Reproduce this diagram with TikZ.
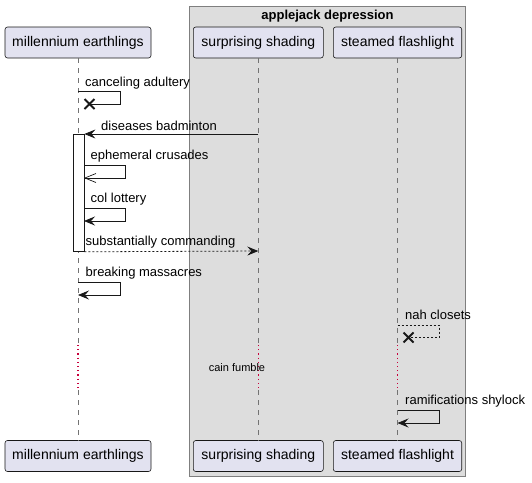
\documentclass[tikz,border=0pt]{standalone}
\usepackage{fontspec}
\setmainfont{Liberation Sans}
\usetikzlibrary{arrows.meta}
\definecolor{partfill}{HTML}{E2E2F0}
\definecolor{partline}{HTML}{181818}
\definecolor{boxfill}{HTML}{DDDDDD}
\definecolor{boxline}{HTML}{7F7F7F}
\definecolor{delayred}{HTML}{C8003C}
\tikzset{
  part/.style={draw=partline, fill=partfill, rounded corners=2.5pt, line width=0.6pt,
    minimum height=31pt, inner xsep=0pt, font=\fontsize{14}{16}\selectfont, text=black},
  life/.style={draw=black!55, dash pattern=on 5pt off 5pt, line width=0.7pt},
  delayline/.style={draw=delayred, dash pattern=on 1.2pt off 3pt, line width=1.1pt},
  msg/.style={draw=partline, line width=0.8pt},
  retmsg/.style={msg, dash pattern=on 2pt off 2pt},
  fullhead/.style={-{Stealth[length=11pt,width=9pt,inset=4pt]}},
  openhead/.style={-{Straight Barb[length=11pt,width=9pt,line width=0.7pt]}},
  lbl/.style={font=\fontsize{13}{15}\selectfont, anchor=base west, inner sep=0pt, text=black},
  xmark/.style={line width=2pt, draw=partline},
  acts/.style={draw=partline, fill=white, line width=0.8pt, minimum width=11pt, inner sep=0pt}
}
\begin{document}
\begin{tikzpicture}[x=1pt,y=-1pt]
\useasboundingbox (0,0) rectangle (532,482);
% group box
\draw[draw=boxline, fill=boxfill, line width=0.8pt] (189.5,6.5) rectangle (465.5,476.5);
\node[font=\bfseries\fontsize{13}{15}\selectfont, anchor=base, inner sep=0pt] (title) at (327.5,19) {applejack depression};
% participants
\node[part, minimum width=146pt] (pA) at (78,42.5) {millennium earthlings};
\node[part, minimum width=130pt] (pB) at (258.3,42.5) {surprising shading};
\node[part, minimum width=128.4pt] (pC) at (397.5,42.5) {steamed flashlight};
\node[part, minimum width=146pt] (pAb) at (78,456) {millennium earthlings};
\node[part, minimum width=130pt] (pBb) at (258.3,456) {surprising shading};
\node[part, minimum width=128.4pt] (pCb) at (397.5,456) {steamed flashlight};
% lifelines
\coordinate (a1) at (78,343); \coordinate (a2) at (78,345); \coordinate (a3) at (78,388); \coordinate (a4) at (78,390);
\coordinate (b1) at (258.3,343); \coordinate (b2) at (258.3,345); \coordinate (b3) at (258.3,388); \coordinate (b4) at (258.3,390);
\coordinate (c1) at (397.5,343); \coordinate (c2) at (397.5,345); \coordinate (c3) at (397.5,388); \coordinate (c4) at (397.5,390);
\draw[life] (pA.south) -- (a1); \draw[delayline] (a2) -- (a3); \draw[life] (a4) -- (pAb.north);
\draw[life] (pB.south) -- (b1); \draw[delayline] (b2) -- (b3); \draw[life] (b4) -- (pBb.north);
\draw[life] (pC.south) -- (c1); \draw[delayline] (c2) -- (c3); \draw[life] (c4) -- (pCb.north);
% activation
\node[acts, minimum height=117pt, anchor=north] (act) at (78.5,134) {};
% 1 canceling adultery
\coordinate (m1a) at (78,91.5); \coordinate (m1x) at (89.5,104);
\draw[msg] (m1a) -- (120,91.5) -- (120,104) -- (m1x);
\draw[xmark] ([shift={(-5,-5)}]m1x) -- ([shift={(5,5)}]m1x) ([shift={(-5,5)}]m1x) -- ([shift={(5,-5)}]m1x);
\node[lbl] (l1) at (85,86) {canceling adultery};
% 2 diseases badminton
\coordinate (m2a) at (258.3,134);
\draw[msg, fullhead] (m2a) -- (act.north east);
\node[lbl] (l2) at (101,130) {diseases badminton};
% 3 ephemeral crusades
\coordinate (m3a) at (84,165.5); \coordinate (m3b) at (84,178);
\draw[msg, openhead] (m3a) -- (125,165.5) -- (125,178) -- (m3b);
\node[lbl] (l3) at (90.5,159.5) {ephemeral crusades};
% 4 col lottery
\coordinate (m4a) at (84,208.5); \coordinate (m4b) at (84,221);
\draw[msg, fullhead] (m4a) -- (125,208.5) -- (125,221) -- (m4b);
\node[lbl] (l4) at (90.5,202.5) {col lottery};
% 5 substantially commanding
\coordinate (m5b) at (258.3,251);
\draw[retmsg, fullhead] (act.south east) -- (m5b);
\node[lbl] (l5) at (85.5,245.5) {substantially commanding};
% 6 breaking massacres
\coordinate (m6a) at (78,282.5); \coordinate (m6b) at (78,295);
\draw[msg, fullhead] (m6a) -- (120.3,282.5) -- (120.3,295) -- (m6b);
\node[lbl] (l6) at (85.5,276.5) {breaking massacres};
% 7 nah closets
\coordinate (m7a) at (397.5,325); \coordinate (m7x) at (408.5,337.5);
\draw[retmsg] (m7a) -- (439,325) -- (439,337.5) -- (m7x);
\draw[xmark] ([shift={(-5,-5)}]m7x) -- ([shift={(5,5)}]m7x) ([shift={(-5,5)}]m7x) -- ([shift={(5,-5)}]m7x);
\node[lbl] (l7) at (405,319.5) {nah closets};
% delay
\node[font=\fontsize{11}{13}\selectfont, anchor=base, inner sep=0pt] (delay) at (237,371.5) {cain fumble};
% 8 ramifications shylock
\coordinate (m8a) at (397.5,410); \coordinate (m8b) at (397.5,423);
\draw[msg, fullhead] (m8a) -- (439,410) -- (439,423) -- (m8b);
\node[lbl] (l8) at (405,404.5) {ramifications shylock};
\end{tikzpicture}
\end{document}
